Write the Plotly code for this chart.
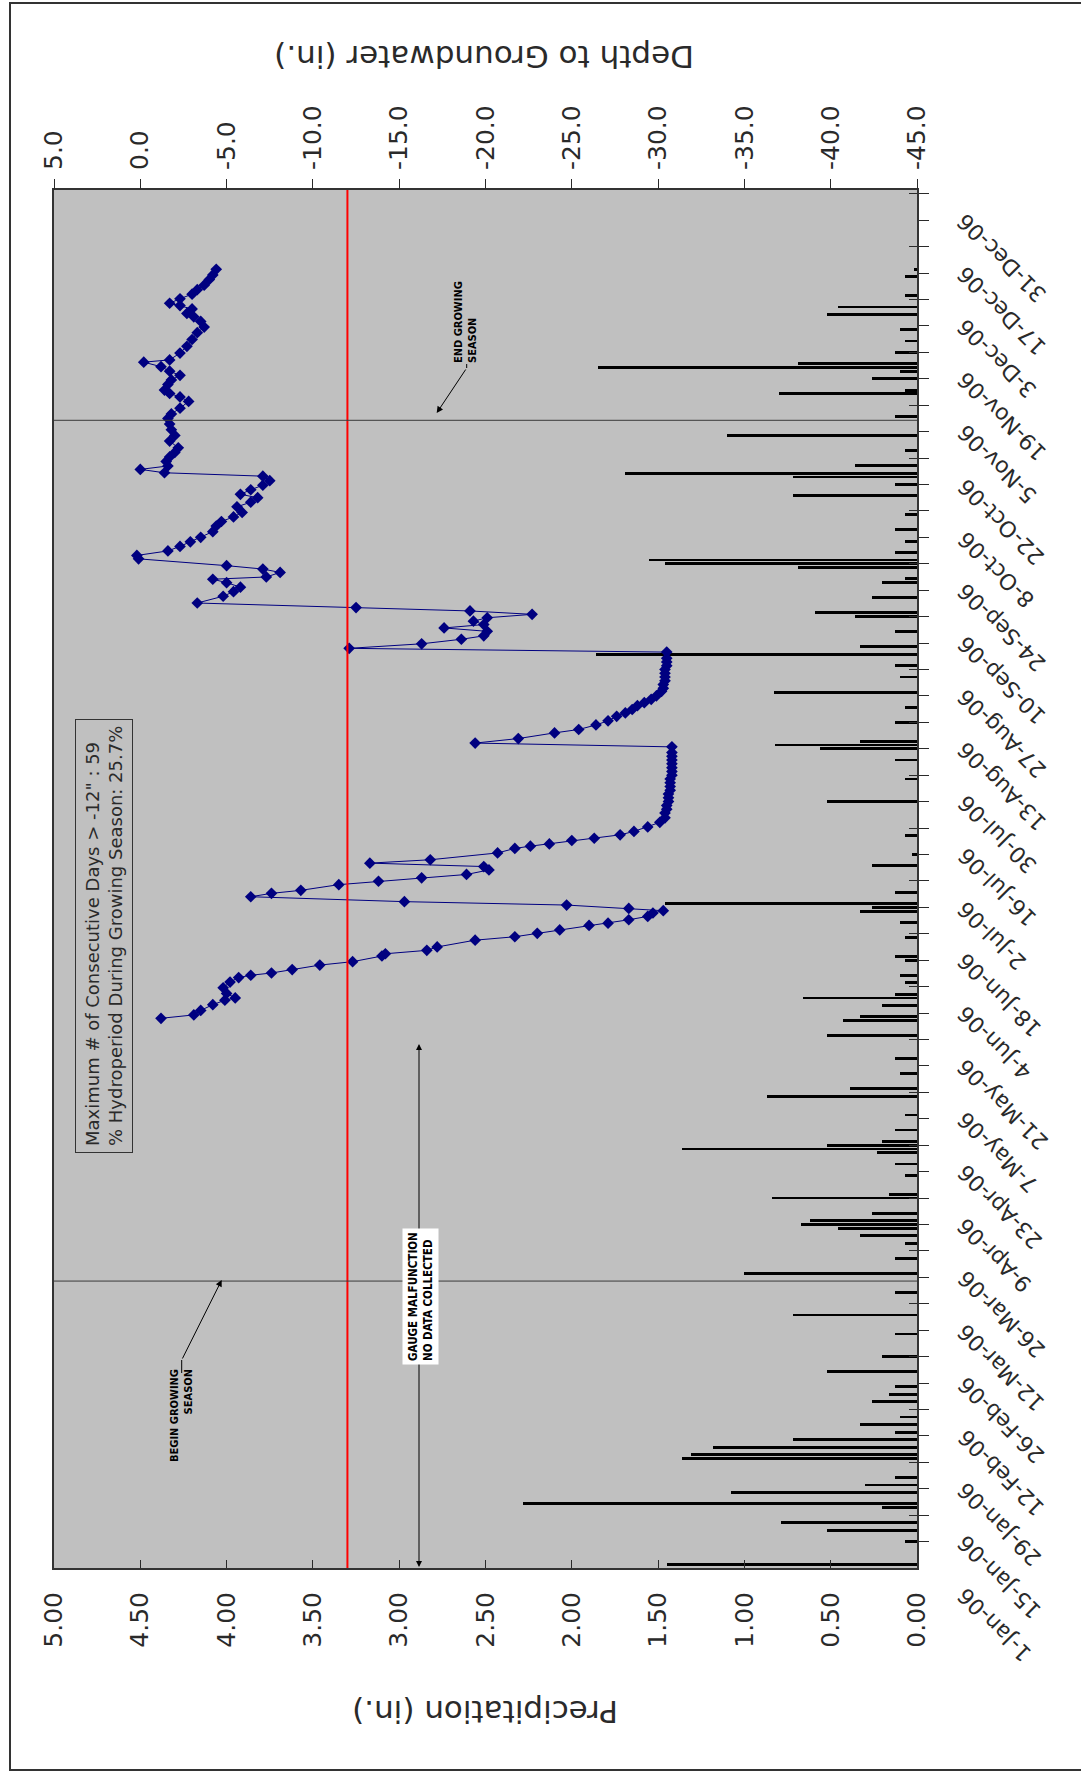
import pandas as pd
import plotly.graph_objects as go

# ---- data -------------------------------------------------------------
YEAR_START = pd.Timestamp("2006-01-01")

# daily precipitation (day index from 1-Jan-06, inches)
precip_day = [1, 7, 10, 12, 16, 17, 20, 22, 24, 29, 30, 32, 34, 36, 38, 40, 44, 46, 48,
              52, 56, 62, 67, 73, 78, 82, 86, 88, 90, 91, 92, 94, 98, 99, 104, 107, 110,
              111, 112, 113, 116, 120, 125, 127, 131, 135, 141, 145, 146, 149, 151, 152,
              155, 157, 161, 162, 167, 171, 174, 175, 176, 179, 186, 189, 194, 203, 209,
              214, 217, 218, 219, 224, 228, 232, 236, 239, 242, 244, 248, 252, 253, 257,
              261, 262, 265, 266, 267, 269, 272, 275, 279, 284, 287, 289, 290, 292, 296,
              300, 305, 311, 312, 315, 317, 318, 319, 322, 325, 328, 332, 334, 337, 342, 344]
precip_in = [1.45, 0.07, 0.52, 0.79, 0.20, 2.28, 1.08, 0.30, 0.13, 1.36, 1.31, 1.18, 0.72,
             0.13, 0.33, 0.10, 0.26, 0.16, 0.13, 0.52, 0.20, 0.13, 0.72, 0.13, 1.00, 0.13,
             0.07, 0.33, 0.46, 0.67, 0.62, 0.26, 0.84, 0.16, 0.07, 0.13, 0.23, 1.36, 0.52,
             0.20, 0.13, 0.07, 0.87, 0.39, 0.10, 0.13, 0.52, 0.43, 0.33, 0.20, 0.66, 0.13,
             0.07, 0.10, 0.07, 0.13, 0.07, 0.10, 0.33, 0.26, 1.46, 0.13, 0.26, 0.03, 0.07,
             0.52, 0.07, 0.13, 0.56, 0.82, 0.33, 0.13, 0.07, 0.83, 0.10, 0.13, 1.86, 0.33,
             0.13, 0.36, 0.59, 0.26, 0.20, 0.07, 0.69, 1.46, 1.55, 0.13, 0.07, 0.13, 0.07,
             0.72, 0.13, 0.72, 1.69, 0.36, 0.07, 1.10, 0.13, 0.80, 0.07, 0.26, 0.10, 1.85,
             0.69, 0.13, 0.07, 0.10, 0.52, 0.46, 0.07, 0.07, 0.02]

# groundwater readings (day index from 1-Jan-06, depth in inches)
gw_day = [145.6, 146.5, 147.7, 149.2, 150.4, 151.0, 152.2, 153.7, 155.2, 156.4, 157.0,
          157.6, 158.5, 159.7, 160.6, 162.1, 162.7, 163.6, 164.5, 166.3, 167.2, 168.1,
          169.0, 170.2, 170.8, 171.7, 172.6, 173.5, 174.1,
          174.7, 175.6, 176.5, 177.8, 178.7, 179.5, 181.0, 181.9, 182.8, 183.7, 184.9,
          185.8, 186.7, 187.6, 189.4, 190.6, 191.2, 191.8, 192.7, 193.3, 194.2, 195.1,
          196.3, 197.5, 198.7,
          200, 201, 202, 203, 204, 205, 206, 207, 208, 209, 210, 211, 212, 213, 214, 215,
          216, 217.5,
          218.5, 219.7, 221.2, 222.1, 223.3, 224.4, 225.6, 226.5, 227.4, 228.4, 229.2,
          230.1, 231.0, 232.2, 233, 234, 235, 236, 237, 238, 239, 240, 241, 242.6,
          243.6, 244.8, 246.0, 246.9, 248.1, 249.0, 249.9, 250.8, 251.7, 252.6, 253.5,
          254.4, 255.6,
          257.4, 258.6, 259.8, 261.0, 261.9, 262.5, 263.7, 264.6, 265.5, 267.3, 268.2,
          269.4, 270.6, 271.8, 273.0, 274.5, 276.0, 277.2, 278.4, 279.6, 281.1, 282.3,
          283.5, 284.4, 285.6, 286.8, 288.0, 289.2, 290.1, 291.0, 291.9, 293.1, 294.3,
          295.5, 296.7, 298.5, 300.0, 301.5, 303.0, 304.5, 305.7, 307.2, 309.0, 310.2,
          311.1, 312.0, 313.5, 314.7, 315.9, 317.0, 318.2, 319.4, 320.0, 321.8, 323.6,
          325.4, 327.2, 328.7, 330.2, 331.4, 332.3, 333.5, 334.4, 335.0, 336.2, 337.4,
          338.6, 339.8, 341.3, 342.5, 344.0]
gw_depth = [-1.2, -3.1, -3.5, -4.2, -4.9, -5.5, -5.0, -4.8, -5.2, -5.7, -6.4,
            -7.6, -8.8, -10.4, -12.3, -14.0, -14.2, -16.6, -17.2, -19.4, -21.7, -23.0,
            -24.3, -26.0, -27.1, -28.3, -29.4, -29.7, -30.3,
            -28.3, -24.7, -15.3, -6.4, -7.6, -9.3, -11.5, -13.8, -16.3, -18.9, -20.2,
            -19.9, -13.3, -16.8, -20.7, -21.7, -22.6, -23.7, -25.0, -26.3, -27.8, -28.6,
            -29.4, -30.1, -30.4,
            -30.4, -30.5, -30.5, -30.6, -30.6, -30.6, -30.7, -30.7, -30.7, -30.7, -30.8,
            -30.8, -30.8, -30.8, -30.8, -30.8, -30.8, -30.8,
            -19.4, -21.9, -24.0, -25.4, -26.4, -27.1, -27.6, -28.1, -28.5, -28.8, -29.2,
            -29.6, -29.9, -30.2, -30.3, -30.3, -30.4, -30.4, -30.4, -30.4, -30.5, -30.5,
            -30.5, -30.5,
            -12.1, -16.3, -18.6, -19.9, -20.1, -17.6, -19.9, -19.3, -20.1, -22.7, -19.1,
            -12.5, -3.3,
            -4.8, -5.4, -5.8, -5.0, -4.2, -7.3, -8.1, -7.1, -5.0, 0.1, 0.2,
            -1.6, -2.3, -2.9, -3.5, -4.2, -4.4, -4.7, -5.4, -5.9, -5.6, -6.4,
            -6.8, -5.8, -6.4, -7.1, -7.5, -7.1, -1.4, 0.0, -1.6, -1.5, -1.7,
            -2.0, -2.2, -1.7, -2.0, -1.8, -1.7, -1.6, -1.8, -2.3, -2.8, -2.3,
            -1.7, -1.4, -1.6, -1.8, -2.3, -1.7, -1.2, -0.2, -1.7, -2.3, -2.7,
            -3.0, -3.3, -3.7, -3.5, -3.1, -2.7, -3.0, -2.3, -1.7, -2.3, -3.0,
            -3.3, -3.7, -4.0, -4.2, -4.4]

THRESHOLD_DEPTH = -12.0
season_begin = "2006-03-18"
season_end = "2006-11-01"

precip_ticks = [5.0, 4.5, 4.0, 3.5, 3.0, 2.5, 2.0, 1.5, 1.0, 0.5, 0.0]
depth_ticks = [5, 0, -5, -10, -15, -20, -25, -30, -35, -40, -45]
date_ticks = pd.date_range("2006-01-01", "2006-12-31", freq="14D")

stats_text = ('Maximum # of Consecutive Days > -12" : 59<br>'
              '% Hydroperiod During Growing Season: 25.7%')

# ---- figure -----------------------------------------------------------
W, H = 1081, 1775
L, R, T, B = 54, 917, 190, 1568
FONT = "DejaVu Sans"
INK = "#2a2a2a"
NARROW = "Liberation Sans Narrow, DejaVu Sans Condensed, Liberation Sans, sans-serif"


def pap(px, py):
    """pixel position on the page -> paper coordinates"""
    return (px - L) / (R - L), (B - py) / (B - T)


precip_dates = YEAR_START + pd.to_timedelta(precip_day, unit="D")
gw_dates = YEAR_START + pd.to_timedelta(gw_day, unit="D")

fig = go.Figure()
fig.add_trace(go.Bar(
    x=precip_in, y=precip_dates, orientation="h",
    width=0.75 * 86400000, marker=dict(color="black", line=dict(width=0)),
    xaxis="x", yaxis="y", showlegend=False,
))
fig.add_trace(go.Scatter(
    x=gw_depth, y=gw_dates, mode="lines+markers",
    line=dict(color="#000080", width=1),
    marker=dict(symbol="diamond", size=9, color="#000080"),
    xaxis="x2", yaxis="y", showlegend=False,
))

tick_font = dict(family=FONT, size=25, color=INK)

fig.update_layout(
    width=W, height=H,
    margin=dict(l=L, r=W - R, t=T, b=H - B),
    paper_bgcolor="white", plot_bgcolor="#c0c0c0",
    bargap=0,
    xaxis=dict(
        range=[5, 0], tickmode="array", tickvals=precip_ticks,
        ticktext=[f"{v:.2f}" for v in precip_ticks], tickangle=-90,
        ticks="inside", ticklen=8, tickcolor=INK, tickfont=tick_font,
        ticklabelstandoff=12,
        showline=True, linecolor="#333333", linewidth=2, mirror=True,
        showgrid=False, zeroline=False,
    ),
    xaxis2=dict(
        range=[5, -45], overlaying="x", side="top", anchor="y",
        tickmode="array", tickvals=depth_ticks,
        ticktext=[f"{v:.1f}" for v in depth_ticks],
        tickangle=-90, ticks="outside", ticklen=10, tickcolor=INK,
        tickfont=tick_font, ticklabelstandoff=4, showgrid=False, zeroline=False,
    ),
    yaxis=dict(
        type="date", range=["2006-01-01", "2007-01-01"], side="right",
        tickmode="array", tickvals=date_ticks, showticklabels=False,
        ticks="inside", ticklen=8, tickcolor=INK,
        minor=dict(tickmode="linear", tick0="2006-01-01", dtick=7 * 86400000,
                   ticks="outside", ticklen=10, tickcolor=INK),
        showline=True, linecolor="#333333", linewidth=2, mirror=True,
        showgrid=False, zeroline=False,
    ),
)

# threshold and growing season lines
fig.add_shape(type="line", xref="x2", yref="paper", x0=THRESHOLD_DEPTH,
              x1=THRESHOLD_DEPTH, y0=0, y1=1, line=dict(color="red", width=2))
for d in (season_begin, season_end):
    fig.add_shape(type="line", xref="paper", yref="y", x0=0, x1=1, y0=d, y1=d,
                  line=dict(color="#3a3a3a", width=1))

# page frame
fx0, fy0 = pap(10, 1770)
fx1, fy1 = pap(1090, 3)
fig.add_shape(type="rect", xref="paper", yref="paper", x0=fx0, y0=fy0, x1=fx1, y1=fy1,
              line=dict(color="#333333", width=2), layer="below")

ann = []
# date labels along the right-hand axis
lab_x, _ = pap(950, 0)
for d in date_ticks:
    ann.append(dict(text=f"{d.day}-{d.strftime('%b')}-06", x=lab_x, y=d,
                    xref="paper", yref="y", xanchor="left", yanchor="top",
                    yshift=-12, textangle=-135, showarrow=False,
                    font=dict(family=FONT, size=22, color=INK)))

# axis titles
x, y = pap(484, 57)
ann.append(dict(text="Depth to Groundwater (in.)", x=x, y=y, textangle=180,
                font=dict(family=FONT, size=31, color=INK)))
x, y = pap(485, 1712)
ann.append(dict(text="Precipitation (in.)", x=x, y=y, textangle=180,
                font=dict(family=FONT, size=31, color=INK)))

# statistics box
x, y = pap(104, 936)
ann.append(dict(text=stats_text, x=x, y=y, textangle=-90, align="left",
                font=dict(family=FONT, size=18, color=INK),
                bordercolor="#333333", borderwidth=1, borderpad=6))

# gauge malfunction span arrows
for tip_py, ay in ((1044, 256), (1567, -267)):
    x, y = pap(419, tip_py)
    ann.append(dict(text="", x=x, y=y, ax=0, ay=ay, showarrow=True,
                    arrowhead=2, arrowsize=1.2, arrowwidth=1, arrowcolor="black"))
x, y = pap(420, 1297)
ann.append(dict(text="<b>GAUGE MALFUNCTION<br>NO DATA COLLECTED</b>", x=x, y=y,
                textangle=-90, align="left", bgcolor="white", borderpad=3,
                font=dict(family=NARROW, size=11.5, color="black")))

# growing season labels with leaders
x, y = pap(221.7, 1280)
ann.append(dict(text="", x=x, y=y, ax=-40, ay=80, showarrow=True, arrowhead=2,
                arrowsize=1.3, arrowwidth=1, arrowcolor="black"))
x, y = pap(181, 1416)
ann.append(dict(text="<b>BEGIN GROWING<br>SEASON</b>", x=x, y=y, textangle=-90,
                align="right", font=dict(family=NARROW, size=11, color="black")))
x, y = pap(436.7, 413)
ann.append(dict(text="", x=x, y=y, ax=30, ay=-45, showarrow=True, arrowhead=2,
                arrowsize=1.3, arrowwidth=1, arrowcolor="black"))
x, y = pap(466, 322)
ann.append(dict(text="<b>END GROWING<br>SEASON</b>", x=x, y=y, textangle=-90,
                align="left", font=dict(family=NARROW, size=11, color="black")))

for a in ann:
    a.setdefault("showarrow", False)
    a.setdefault("xref", "paper")
    a.setdefault("yref", "paper")
    a.setdefault("xanchor", "center")
    a.setdefault("yanchor", "middle")
    if a.get("showarrow"):
        a.update(axref="pixel", ayref="pixel")
fig.update_layout(annotations=ann)

# leader stubs
for (px, py0, py1) in ((181.7, 1373, 1360), (466.7, 364, 368)):
    x0, y0 = pap(px, py0)
    x1, y1 = pap(px, py1)
    fig.add_shape(type="line", xref="paper", yref="paper", x0=x0, x1=x1, y0=y0, y1=y1,
                  line=dict(color="black", width=1))

fig.write_html("out.html")
